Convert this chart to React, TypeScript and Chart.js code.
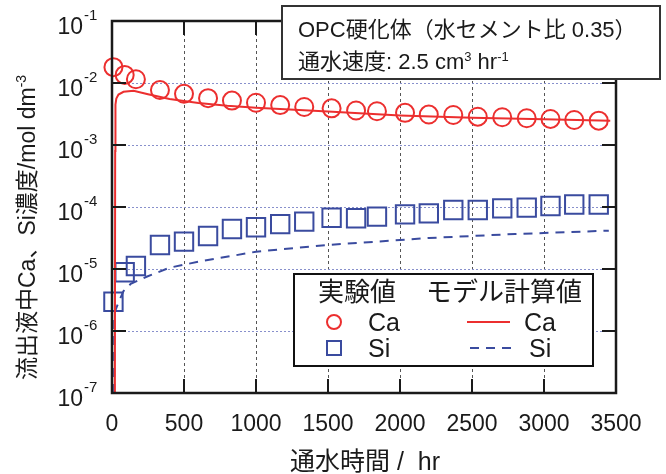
import React, { useEffect, useRef } from "react";
import { Chart, registerables } from "chart.js";

Chart.register(...registerables);

// ---- data ----
const expTime = [10, 88, 166, 333, 500, 667, 833, 1000, 1168, 1335, 1525, 1695, 1840, 2035, 2200, 2370, 2540, 2710, 2880, 3045, 3210, 3380];
const expCa = [0.018, 0.0135, 0.0115, 0.0077, 0.0067, 0.0057, 0.0052, 0.0048, 0.0044, 0.0041, 0.0039, 0.0036, 0.0035, 0.0033, 0.0031, 0.00305, 0.00286, 0.0028, 0.0027, 0.00263, 0.00253, 0.00247];
const expSi = [2.97e-6, 8.85e-6, 1.12e-5, 2.44e-5, 2.76e-5, 3.4e-5, 4.42e-5, 4.71e-5, 5.3e-5, 5.8e-5, 6.7e-5, 6.6e-5, 7.0e-5, 7.6e-5, 7.9e-5, 8.95e-5, 8.95e-5, 9.5e-5, 9.75e-5, 1.04e-4, 1.1e-4, 1.1e-4];

const modelCaTime = [20, 22, 24, 30, 45, 80, 150, 250, 400, 600, 800, 1000, 1500, 2000, 2500, 3000, 3460];
const modelCa = [1e-7, 0.0008, 0.0045, 0.0056, 0.0065, 0.0072, 0.0075, 0.0066, 0.0055, 0.00475, 0.0043, 0.004, 0.00347, 0.003, 0.00274, 0.0026, 0.00247];

const modelSiTime = [15, 16, 25, 45, 80, 130, 240, 400, 600, 1000, 1500, 2200, 2800, 3450];
const modelSi = [1e-7, 1.8e-6, 2.2e-6, 2.9e-6, 4.4e-6, 5.75e-6, 7.5e-6, 1.05e-5, 1.31e-5, 1.9e-5, 2.44e-5, 3.16e-5, 3.67e-5, 4.15e-5];

const xTickValues = [0, 500, 1000, 1500, 2000, 2500, 3000, 3500];
const yTickExponents = [-1, -2, -3, -4, -5, -6, -7];

const xTitle = "通水時間 /  hr";
const yTitle = "流出液中Ca、Si濃度/mol dm";
const yTitleSup = "-3";
const noteLine1 = "OPC硬化体（水セメント比 0.35）";
const legendHeadExp = "実験値";
const legendHeadModel = "モデル計算値";

const RED = "#ec2f2f";
const BLUE = "#3a4b9f";
const FAM = '"Liberation Sans", Arial, "Noto Sans CJK JP", sans-serif';
const f = (s: number) => `${s}px ${FAM}`;

type Seg = { t: string; sup?: boolean };

function drawRich(ctx: CanvasRenderingContext2D, segs: Seg[], x: number, y: number, size: number, supSize: number, rise: number, align: "left" | "center" = "left") {
  ctx.textAlign = "left";
  ctx.textBaseline = "alphabetic";
  let w = 0;
  for (const s of segs) {
    ctx.font = f(s.sup ? supSize : size);
    w += ctx.measureText(s.t).width;
  }
  let cx = align === "center" ? x - w / 2 : x;
  for (const s of segs) {
    ctx.font = f(s.sup ? supSize : size);
    ctx.fillText(s.t, cx, s.sup ? y - rise : y);
    cx += ctx.measureText(s.t).width;
  }
}

const decorPlugin = {
  id: "decor",
  beforeDatasetsDraw(chart: any) {
    const { ctx, chartArea: a, scales } = chart;
    const x = scales.x, y = scales.y;
    ctx.save();
    ctx.lineWidth = 1;
    ctx.strokeStyle = "#555";
    ctx.setLineDash([3, 3]);
    for (const v of xTickValues) {
      if (v === x.min || v === x.max) continue;
      const px = Math.round(x.getPixelForValue(v)) + 0.5;
      ctx.beginPath();
      ctx.moveTo(px, a.top);
      ctx.lineTo(px, a.bottom);
      ctx.stroke();
    }
    ctx.strokeStyle = "#8890cc";
    ctx.setLineDash([2, 2]);
    for (const e of yTickExponents) {
      const v = Math.pow(10, e);
      if (e === -1 || e === -7) continue;
      const py = Math.round(y.getPixelForValue(v)) + 0.5;
      ctx.beginPath();
      ctx.moveTo(a.left, py);
      ctx.lineTo(a.right, py);
      ctx.stroke();
    }
    ctx.restore();
  },
  afterDatasetsDraw(chart: any) {
    const { ctx, chartArea: a, scales } = chart;
    const x = scales.x, y = scales.y;
    ctx.save();
    ctx.setLineDash([]);
    // inward ticks
    ctx.strokeStyle = "#1a1a1a";
    ctx.lineWidth = 2;
    const TL = 14;
    for (const v of xTickValues) {
      const px = x.getPixelForValue(v);
      ctx.beginPath();
      ctx.moveTo(px, a.bottom);
      ctx.lineTo(px, a.bottom - TL);
      ctx.moveTo(px, a.top);
      ctx.lineTo(px, a.top + TL);
      ctx.stroke();
    }
    for (const e of yTickExponents) {
      const py = y.getPixelForValue(Math.pow(10, e));
      ctx.beginPath();
      ctx.moveTo(a.left, py);
      ctx.lineTo(a.left + TL, py);
      ctx.moveTo(a.right, py);
      ctx.lineTo(a.right - TL, py);
      ctx.stroke();
    }
    // frame
    ctx.lineWidth = 2.5;
    ctx.strokeRect(a.left, a.top, a.right - a.left, a.bottom - a.top);

    // annotation box
    ctx.fillStyle = "#fff";
    ctx.fillRect(282, 6, 378, 73);
    ctx.strokeStyle = "#333";
    ctx.lineWidth = 2;
    ctx.strokeRect(282, 6, 378, 73);
    ctx.fillStyle = "#1a1a1a";
    drawRich(ctx, [{ t: noteLine1 }], 298, 37, 22, 13, 8);
    drawRich(ctx, [{ t: "通水速度: 2.5 cm" }, { t: "3", sup: true }, { t: " hr" }, { t: "-1", sup: true }], 298, 69, 22, 13, 8);

    // legend box
    ctx.fillStyle = "#fff";
    ctx.fillRect(294, 274, 299, 92);
    ctx.strokeStyle = "#111";
    ctx.lineWidth = 2;
    ctx.strokeRect(294, 274, 299, 92);
    ctx.fillStyle = "#1a1a1a";
    drawRich(ctx, [{ t: legendHeadExp }], 318, 301, 26, 14, 8);
    drawRich(ctx, [{ t: legendHeadModel }], 426, 301, 26, 14, 8);
    drawRich(ctx, [{ t: "Ca" }], 368, 331, 25, 14, 8);
    drawRich(ctx, [{ t: "Ca" }], 524, 331, 25, 14, 8);
    drawRich(ctx, [{ t: "Si" }], 368, 357, 25, 14, 8);
    drawRich(ctx, [{ t: "Si" }], 529, 357, 25, 14, 8);
    ctx.strokeStyle = RED;
    ctx.lineWidth = 2;
    ctx.beginPath();
    ctx.arc(334, 322, 7, 0, Math.PI * 2);
    ctx.stroke();
    ctx.beginPath();
    ctx.moveTo(467, 322);
    ctx.lineTo(510, 322);
    ctx.stroke();
    ctx.strokeStyle = BLUE;
    ctx.strokeRect(327, 341, 14, 14);
    ctx.setLineDash([9, 7]);
    ctx.beginPath();
    ctx.moveTo(470, 348);
    ctx.lineTo(513, 348);
    ctx.stroke();
    ctx.setLineDash([]);

    // tick labels
    ctx.fillStyle = "#1a1a1a";
    ctx.font = f(23);
    ctx.textAlign = "center";
    ctx.textBaseline = "alphabetic";
    for (const v of xTickValues) {
      ctx.fillText(String(v), x.getPixelForValue(v), 431);
    }
    for (const e of yTickExponents) {
      const py = y.getPixelForValue(Math.pow(10, e));
      ctx.font = f(23);
      ctx.textAlign = "right";
      ctx.fillText("10", 83, py + 13);
      ctx.font = f(15);
      ctx.textAlign = "left";
      ctx.fillText(String(e), 84, py - 1);
    }

    // axis titles
    ctx.textAlign = "left";
    drawRich(ctx, [{ t: xTitle }], (a.left + a.right) / 2 + 1, 470, 25, 15, 9, "center");
    ctx.save();
    ctx.translate(35, 380);
    ctx.rotate(-Math.PI / 2);
    drawRich(ctx, [{ t: yTitle }, { t: yTitleSup, sup: true }], 0, 0, 23, 14, 9);
    ctx.restore();

    ctx.restore();
  },
};

export default function App() {
  const ref = useRef<HTMLCanvasElement | null>(null);
  useEffect(() => {
    if (!ref.current) return;
    const pts = (xs: number[], ys: number[]) => xs.map((v, i) => ({ x: v, y: ys[i] }));
    const chart = new Chart(ref.current, {
      type: "scatter",
      data: {
        datasets: [
          {
            label: "Ca model",
            data: pts(modelCaTime, modelCa),
            showLine: true,
            borderColor: RED,
            borderWidth: 2,
            pointRadius: 0,
            fill: false,
          },
          {
            label: "Si model",
            data: pts(modelSiTime, modelSi),
            showLine: true,
            borderColor: BLUE,
            borderWidth: 2,
            borderDash: [9, 7],
            pointRadius: 0,
            fill: false,
          },
          {
            label: "Ca",
            data: pts(expTime, expCa),
            pointStyle: "circle",
            pointRadius: 9,
            borderWidth: 2,
            borderColor: RED,
            backgroundColor: "rgba(0,0,0,0)",
            clip: false,
          },
          {
            label: "Si",
            data: pts(expTime, expSi),
            pointStyle: "rect",
            pointRadius: 13,
            borderWidth: 2,
            borderColor: BLUE,
            backgroundColor: "rgba(0,0,0,0)",
            clip: false,
          },
        ],
      } as any,
      options: {
        animation: false,
        responsive: true,
        maintainAspectRatio: false,
        events: [],
        layout: { padding: { left: 112, right: 50, top: 21, bottom: 81 } },
        plugins: { legend: { display: false }, tooltip: { enabled: false } },
        scales: {
          x: { type: "linear", min: 0, max: 3500, display: false },
          y: { type: "logarithmic", min: 1e-7, max: 1e-1, display: false },
        },
      } as any,
      plugins: [decorPlugin],
    });
    return () => chart.destroy();
  }, []);
  return (
    <div style={{ position: "fixed", left: 0, top: 0, width: 666, height: 474, background: "#fff" }}>
      <canvas ref={ref} />
    </div>
  );
}
